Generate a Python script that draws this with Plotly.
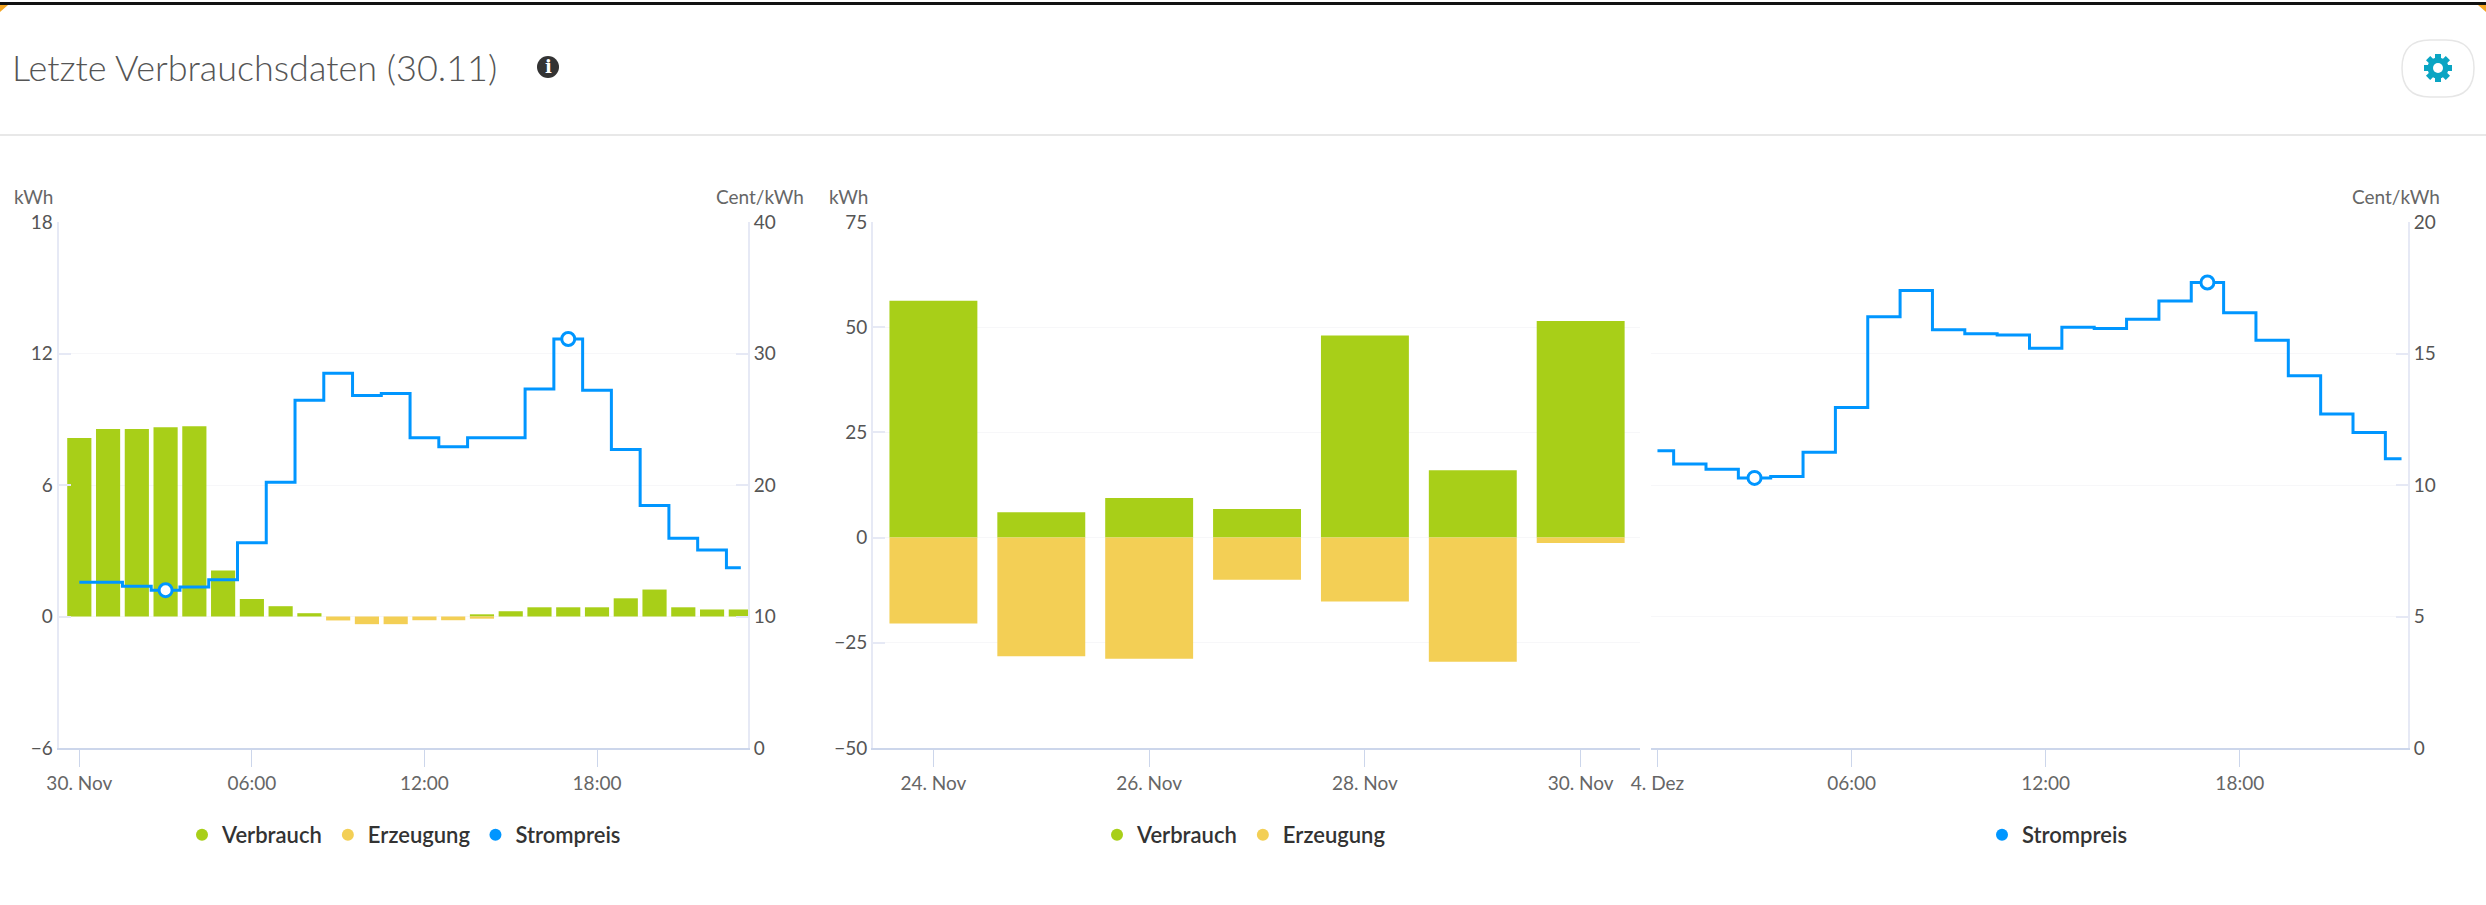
import math
import plotly.graph_objects as go

W, H = 2486, 905
def px(x): return x / W
def py(y): return 1 - y / H

# ---- data ----
hours = list(range(24))
hour_ticks = [0, 6, 12, 18]
hour_labels_nov = ["30. Nov", "06:00", "12:00", "18:00"]
hour_labels_dez = ["4. Dez", "06:00", "12:00", "18:00"]
verbrauch_h = [8.14, 8.55, 8.55, 8.64, 8.68, 2.1, 0.8, 0.47, 0.15, 0, 0, 0, 0, 0, 0.1, 0.24, 0.42, 0.42, 0.42, 0.83, 1.23, 0.42, 0.32, 0.32]
erzeugung_h = [0, 0, 0, 0, 0, 0, 0, 0, 0, -0.18, -0.35, -0.35, -0.17, -0.17, -0.1, 0, 0, 0, 0, 0, 0, 0, 0, 0]
preis_heute = [12.6, 12.6, 12.3, 12.0, 12.25, 12.8, 15.6, 20.2, 26.45, 28.5, 26.8, 26.95, 23.6, 22.9, 23.6, 23.6, 27.3, 31.1, 27.2, 22.7, 18.45, 15.95, 15.05, 13.7]
tage = ["24. Nov", "25. Nov", "26. Nov", "27. Nov", "28. Nov", "29. Nov", "30. Nov"]
tage_ticks = ["24. Nov", "26. Nov", "28. Nov", "30. Nov"]
verbrauch_d = [56.3, 6.0, 9.4, 6.8, 48.0, 16.0, 51.5]
erzeugung_d = [-20.4, -28.2, -28.8, -10.0, -15.2, -29.5, -1.3]
preis_morgen = [11.3, 10.8, 10.6, 10.27, 10.32, 11.25, 12.95, 16.4, 17.4, 15.9, 15.75, 15.7, 15.2, 16.0, 15.95, 16.3, 17.0, 17.7, 16.55, 15.5, 14.15, 12.7, 12.0, 11.0]
extrema = [3, 17]

GREEN, YELLOW, BLUE = "#A8CF18", "#F3CF55", "#0096FF"
AXIS, TICK, GRID = "#E6E9F5", "#CCD6EB", "#F7F7F9"
LBL = "#555555"
TEAL = "#0AA5C3"
FONT = "Lato"

fig = go.Figure()

def bars(x, v, e, xa, ya, width):
    fig.add_bar(x=x, y=v, xaxis=xa, yaxis=ya, width=width, marker=dict(color=GREEN, line_width=0), showlegend=False, name="Verbrauch")
    fig.add_bar(x=x, y=e, xaxis=xa, yaxis=ya, width=width, marker=dict(color=YELLOW, line_width=0), showlegend=False, name="Erzeugung")

def price(series, xa, ya):
    fig.add_scatter(x=hours, y=series, xaxis=xa, yaxis=ya, mode="lines", line=dict(color=BLUE, width=3, shape="hvh"), showlegend=False, name="Strompreis")
    fig.add_scatter(x=extrema, y=[series[i] for i in extrema], xaxis=xa, yaxis=ya, mode="markers",
                    marker=dict(color="white", size=13, line=dict(color=BLUE, width=3)), showlegend=False, name="Strompreis")

bars(hours, verbrauch_h, erzeugung_h, "x", "y", 0.84)
price(preis_heute, "x", "y2")
bars(tage, verbrauch_d, erzeugung_d, "x2", "y3", 0.815)
price(preis_morgen, "x3", "y4")

def legend_items(names, colors, legend):
    for n, c in zip(names, colors):
        fig.add_scatter(x=[None], y=[None], mode="markers", name=n, legend=legend,
                        marker=dict(color=c, size=16, symbol="circle"))

legend_items(["Verbrauch", "Erzeugung", "Strompreis"], [GREEN, YELLOW, BLUE], "legend")
legend_items(["Verbrauch", "Erzeugung"], [GREEN, YELLOW], "legend2")
legend_items(["Strompreis"], [BLUE], "legend3")

def leg(cx):
    return dict(orientation="h", x=px(cx), y=py(835), xanchor="center", yanchor="middle", bgcolor="rgba(0,0,0,0)",
                font=dict(family=FONT, size=22, color="#333333", weight=600), itemsizing="constant", itemwidth=30, traceorder="normal")

tickf = dict(family=FONT, size=19, color=LBL)
xcommon = dict(showgrid=False, zeroline=False, showline=True, linecolor=TICK, linewidth=2, ticks="outside", ticklen=17, tickwidth=1,
               tickcolor=TICK, tickfont=dict(family=FONT, size=19, color="#666666"))
ycommon = dict(gridcolor=GRID, gridwidth=1, zeroline=False, showline=True, linecolor=AXIS, linewidth=2, ticks="inside", ticklen=12,
               tickwidth=2, tickcolor=AXIS, tickfont=tickf)

T, B = 222, 748
fig.update_layout(
    width=W, height=H, autosize=False, margin=dict(l=0, r=0, t=0, b=0, autoexpand=False), paper_bgcolor="white", plot_bgcolor="white",
    barmode="relative", hovermode=False,
    legend=leg(404), legend2=leg(1244), legend3=leg(2057),
    xaxis=dict(xcommon, domain=[px(58.6), px(748)], range=[-0.72, 23.25], tickvals=hour_ticks, ticktext=hour_labels_nov, anchor="y"),
    yaxis=dict(ycommon, domain=[py(B), py(T)], range=[-6, 18], tickvals=[-6, 0, 6, 12, 18], ticktext=["−6", "0", "6", "12", "18"], anchor="x"),
    yaxis2=dict(ycommon, domain=[py(B), py(T)], range=[0, 40], tickvals=[0, 10, 20, 30, 40], overlaying="y", side="right", anchor="x"),
    xaxis2=dict(xcommon, domain=[px(873), px(1640)], type="category", range=[-0.56, 6.55], tickvals=tage_ticks, ticktext=tage_ticks, anchor="y3"),
    yaxis3=dict(ycommon, domain=[py(B), py(T)], range=[-50, 75], tickvals=[-50, -25, 0, 25, 50, 75], ticktext=["−50", "−25", "0", "25", "50", "75"], anchor="x2"),
    xaxis3=dict(xcommon, domain=[px(1651), px(2408)], range=[-0.2, 23.2], tickvals=hour_ticks, ticktext=hour_labels_dez, anchor="y4"),
    yaxis4=dict(ycommon, domain=[py(B), py(T)], range=[0, 20], tickvals=[0, 5, 10, 15, 20], side="right", anchor="x3"),
)

def note(text, x, y, xanchor="left", size=19, color="#666666", family=FONT, weight=400):
    fig.add_annotation(text=text, x=px(x), y=py(y), xref="paper", yref="paper", xanchor=xanchor, yanchor="middle", showarrow=False,
                       font=dict(family=family, size=size, color=color, weight=weight), xshift=0, borderpad=0, borderwidth=0)

note("Letzte Verbrauchsdaten (30.11)", 12, 67, size=36, color="#555555", weight=300)
note("kWh", 14, 196)
note("Cent/kWh", 804, 196, "right")
note("kWh", 829, 196)
note("Cent/kWh", 2440, 196, "right")
note("<b>i</b>", 548, 67, "center", size=18, color="white", family="DejaVu Serif")

# pill-shaped button
x0, x1, y0, y1, r = 2402, 2474, 40, 97, 28
pill = (f"M {px(x0+r)} {py(y0)} L {px(x1-r)} {py(y0)} Q {px(x1)} {py(y0)} {px(x1)} {py(y0+r)} "
        f"Q {px(x1)} {py(y1)} {px(x1-r)} {py(y1)} L {px(x0+r)} {py(y1)} Q {px(x0)} {py(y1)} {px(x0)} {py(y0+r)} "
        f"Q {px(x0)} {py(y0)} {px(x0+r)} {py(y0)} Z")

shapes = [
    dict(type="rect", x0=0, x1=1, y0=py(5), y1=py(2), fillcolor="#111111", line_width=0),
    dict(type="line", x0=0, x1=1, y0=py(135), y1=py(135), line=dict(color="#E8E8E8", width=2)),
    dict(type="circle", x0=px(537), x1=px(559), y0=py(78), y1=py(56), fillcolor="#333333", line_width=0, layer="below"),
    dict(type="path", path=f"M {px(0)} {py(5)} L {px(8)} {py(5)} L {px(0)} {py(12)} Z", fillcolor="#F5A623", line_width=0),
    dict(type="path", path=f"M {px(2486)} {py(5)} L {px(2478)} {py(5)} L {px(2486)} {py(12)} Z", fillcolor="#F5A623", line_width=0),
    dict(type="path", path=pill, fillcolor="white", line=dict(color="#E6E6E6", width=1.5)),
]
# gear icon
gx, gy = 2438, 68
for a in (0, 45, 90, 135):
    dx, dy = 14 * math.cos(math.radians(a)), 14 * math.sin(math.radians(a))
    shapes.append(dict(type="line", x0=px(gx-dx), x1=px(gx+dx), y0=py(gy-dy), y1=py(gy+dy), line=dict(color=TEAL, width=6)))
shapes.append(dict(type="circle", x0=px(gx-10.5), x1=px(gx+10.5), y0=py(gy+10.5), y1=py(gy-10.5), fillcolor=TEAL, line_width=0))
shapes.append(dict(type="circle", x0=px(gx-5), x1=px(gx+5), y0=py(gy+5), y1=py(gy-5), fillcolor="white", line_width=0))
fig.update_layout(shapes=[dict(s, xref="paper", yref="paper") for s in shapes])

fig.write_html("out.html", config=dict(displayModeBar=False),
               post_script="document.body.style.margin='0';document.body.style.overflow='hidden';")
